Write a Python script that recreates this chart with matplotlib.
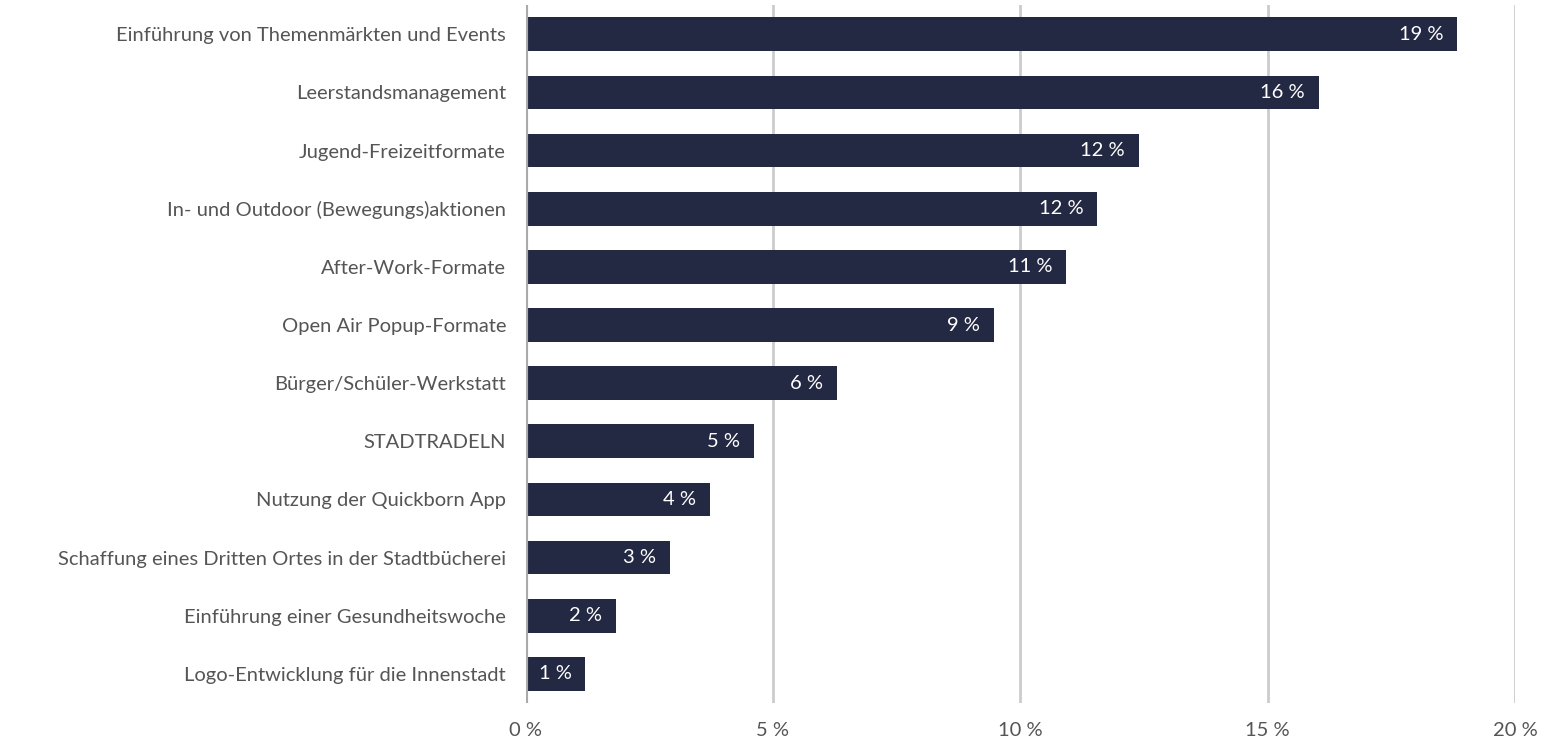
import matplotlib.pyplot as plt

categories = [
    'Einführung von Themenmärkten und Events',
    'Leerstandsmanagement',
    'Jugend-Freizeitformate',
    'In- und Outdoor (Bewegungs)aktionen',
    'After-Work-Formate',
    'Open Air Popup-Formate',
    'Bürger/Schüler-Werkstatt',
    'STADTRADELN',
    'Nutzung der Quickborn App',
    'Schaffung eines Dritten Ortes in der Stadtbücherei',
    'Einführung einer Gesundheitswoche',
    'Logo-Entwicklung für die Innenstadt',
]
values = [18.83, 16.03, 12.39, 11.56, 10.93, 9.47, 6.30, 4.62, 3.72, 2.91, 1.82, 1.21]
ticks = [0, 5, 10, 15, 20]

plt.rcParams['font.family'] = ['Lato', 'DejaVu Sans']

fig = plt.figure(figsize=(15.48, 7.4), dpi=100)
ax = fig.add_axes([0.3395, 0.05, 0.9787 - 0.3395, 0.943])

bar_color = '#232843'
text_color = '#555555'
fs = 14.5

y = list(range(len(categories)))
ax.barh(y, values, height=0.58, color=bar_color, zorder=3)

# value labels inside the bar ends
for yi, v in zip(y, values):
    ax.text(v - 0.28, yi, f'{round(v)} %', ha='right', va='center',
            color='white', fontsize=fs, zorder=4)

ax.set_xlim(0, 20)
ax.set_ylim(len(categories) - 0.5, -0.5)

for t in ticks[1:]:
    ax.axvline(t, color='#cccccc', linewidth=2, zorder=1)
ax.axvline(0, color='#aaaaaa', linewidth=3, zorder=5)

ax.set_yticks(y)
ax.set_yticklabels(categories, fontsize=fs, color=text_color)
ax.set_xticks(ticks)
ax.set_xticklabels([f'{t} %' for t in ticks], fontsize=fs, color=text_color)
ax.tick_params(axis='both', length=0)
ax.tick_params(axis='y', pad=14)
ax.tick_params(axis='x', pad=14)

for s in ax.spines.values():
    s.set_visible(False)

fig.savefig('out.png', dpi=100)
